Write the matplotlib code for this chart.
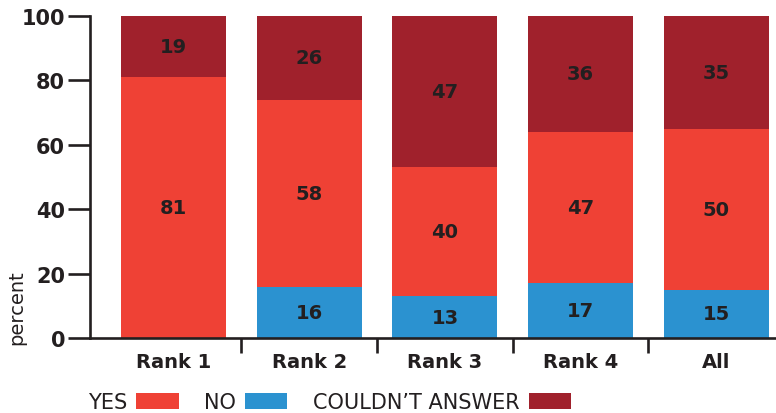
import matplotlib
matplotlib.use("Agg")
import matplotlib.pyplot as plt
import numpy as np

categories = ["Rank 1", "Rank 2", "Rank 3", "Rank 4", "All"]
no_vals = [0, 16, 13, 17, 15]
yes_vals = [81, 58, 40, 47, 50]
cant_vals = [19, 26, 47, 36, 35]
y_ticks = [0, 20, 40, 60, 80, 100]

c_yes = "#EF4135"
c_no = "#2B92D0"
c_cant = "#A0212C"
ink = "#231F20"

fig = plt.figure(figsize=(7.76, 4.14), dpi=100)
ax = fig.add_axes([0.116, 0.181, 0.884, 0.778])

x = np.arange(len(categories))
w = 0.775
no = np.array(no_vals)
yes = np.array(yes_vals)
cant = np.array(cant_vals)

b_no = ax.bar(x, no, w, color=c_no, label="NO")
b_yes = ax.bar(x, yes, w, bottom=no, color=c_yes, label="YES")
b_cant = ax.bar(x, cant, w, bottom=no + yes, color=c_cant, label="COULDN\u2019T ANSWER")

# value labels centred in each segment; empty segments stay unlabelled
for bars, vals in ((b_no, no), (b_yes, yes), (b_cant, cant)):
    labels = [str(v) if v > 0 else "" for v in vals]
    ax.bar_label(bars, labels=labels, label_type="center",
                 fontsize=14, fontweight="bold", color=ink)

ax.set_xlim(-0.615, 4.44)
ax.set_ylim(0, 100)

ax.set_yticks(y_ticks)
ax.set_yticklabels([str(t) for t in y_ticks], fontsize=15, fontweight="bold", color=ink)
ax.tick_params(axis="y", length=16, width=1.9, color=ink, pad=2)

ax.set_xticks(x)
ax.set_xticklabels(categories, fontsize=14, fontweight="bold", color=ink)
ax.tick_params(axis="x", which="major", length=0, pad=10)
ax.set_xticks(x[:-1] + 0.5, minor=True)
ax.tick_params(axis="x", which="minor", length=11, width=1.9, color=ink, direction="out")

for s in ("top", "right"):
    ax.spines[s].set_visible(False)
for s in ("left", "bottom"):
    ax.spines[s].set_linewidth(1.9)
    ax.spines[s].set_color(ink)

fig.text(0.022, 0.257, "percent", rotation=90, fontsize=14, color=ink,
         ha="center", va="center")

handles = [b_yes, b_no, b_cant]
leg = fig.legend(handles, [h.get_label() for h in handles], loc="lower left",
                 bbox_to_anchor=(0.089, -0.043), ncol=3, frameon=False,
                 markerfirst=False, fontsize=15, handlelength=2.02, handleheight=0.77,
                 handletextpad=0.45, columnspacing=1.22)
for t in leg.get_texts():
    t.set_color(ink)

fig.savefig("out.png", dpi=100)
